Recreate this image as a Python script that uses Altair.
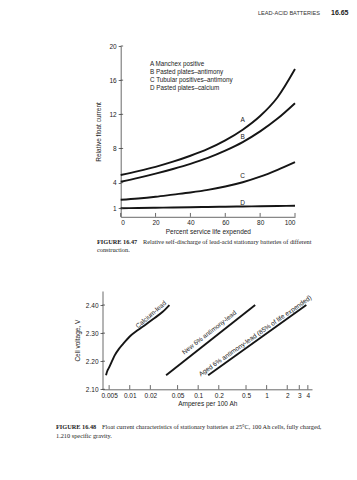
import altair as alt
import pandas as pd

# ---------------- Figure 16.47 data ----------------
life_pct = [0, 10, 20, 30, 40, 50, 60, 70, 80, 90, 100]
curve_a = [4.9, 5.35, 5.85, 6.45, 7.15, 7.95, 8.95, 10.2, 11.8, 14.0, 17.3]
curve_b = [4.1, 4.55, 5.05, 5.6, 6.2, 6.9, 7.75, 8.75, 10.0, 11.5, 13.3]
curve_c = [2.0, 2.15, 2.35, 2.6, 2.85, 3.15, 3.55, 4.05, 4.7, 5.5, 6.4]
curve_d = [1.0, 1.03, 1.06, 1.09, 1.12, 1.15, 1.18, 1.21, 1.24, 1.27, 1.3]
curve_names = ["A", "B", "C", "D"]
curve_label_x = [70, 70, 70, 70]
curve_label_y = [11.3, 9.3, 4.8, 1.65]
legend_lines = ["A  Manchex positive", "B  Pasted plates\u2013antimony",
                "C  Tubular positives\u2013antimony", "D  Pasted plates\u2013calcium"]
top_x_ticks = [0, 20, 40, 60, 80, 100]
top_y_ticks = [1, 4, 8, 12, 16, 20]

# ---------------- Figure 16.48 data ----------------
calcium_amps = [0.0045, 0.0047, 0.005, 0.0055, 0.006, 0.007, 0.008, 0.01, 0.013, 0.017, 0.022, 0.03, 0.038]
calcium_volts = [2.15, 2.165, 2.178, 2.20, 2.22, 2.245, 2.262, 2.288, 2.31, 2.33, 2.35, 2.375, 2.40]
new_sb_amps = [0.034, 0.68]
new_sb_volts = [2.15, 2.40]
aged_sb_amps = [0.14, 3.8]
aged_sb_volts = [2.15, 2.40]
bot_line_labels = ["Calcium-lead", "New 6% antimony-lead", "Aged 6% antimony-lead (85% of life expended)"]
bot_label_amps = [0.0205, 0.145, 0.68]
bot_label_volts = [2.366, 2.302, 2.29]
bot_label_angle = [319, 322, 325]
bot_x_ticks = [0.005, 0.01, 0.02, 0.05, 0.1, 0.2, 0.5, 1, 2, 3, 4]
bot_y_ticks = [2.10, 2.20, 2.30, 2.40]

# page geometry (page pixels, page has 8px margin)
PAGE_W, PAGE_H = 341, 464
TL, TR, TT, TB = 120.7, 295.0, 46.0, 216.8      # top plot frame (page px)
BL, BR, BT, BB = 102.5, 312.0, 291.0, 389.3     # bottom plot frame (page px)
OX, OY = TL - 8, TT - 8
PW, PH = TR - TL, TB - TT

SANS = "Liberation Sans"
SERIF = "Liberation Serif"
INK = "#222222"
AX = "#444444"
LINE = "#151515"

ax_common = dict(labelFont=SANS, titleFont=SANS, labelFontSize=6.5, titleFontSize=6.5,
                 titleFontWeight="normal", labelColor=INK, titleColor=INK,
                 domainColor=AX, domainWidth=0.8, tickColor=AX, tickWidth=0.8, grid=False)


def xs_t():
    return alt.Scale(domain=[0, 100], range=[0, PW], nice=False, zero=False)


def ys_t():
    return alt.Scale(domain=[0, 20], range=[PH, 0], nice=False, zero=False)


def xs_b():
    return alt.Scale(type="log", domain=[0.004, 4.6], range=[BL - TL, BR - TL], nice=False)


def ys_b():
    return alt.Scale(domain=[2.10, 2.45], range=[BB - TT, BT - TT], nice=False, zero=False)


# ---------- top chart ----------
rows = []
for name, vals in zip(curve_names, [curve_a, curve_b, curve_c, curve_d]):
    for x, y in zip(life_pct, vals):
        rows.append({"series": name, "x": x, "y": y})
top_df = pd.DataFrame(rows)

top_lines = alt.Chart(top_df).mark_line(color=LINE, strokeWidth=1.9, interpolate="monotone").encode(
    x=alt.X("x:Q", scale=xs_t(), axis=alt.Axis(orient="bottom", values=top_x_ticks,
                                               ticks=False, labelPadding=3, title="Percent service life expended",
                                               titlePadding=2, **ax_common)),
    y=alt.Y("y:Q", scale=ys_t(), axis=alt.Axis(orient="left", values=top_y_ticks,
                                               tickSize=2.5, labelPadding=2, title="Relative float current",
                                               titlePadding=7, **ax_common)),
    detail="series:N",
)
top_xt = alt.Chart(pd.DataFrame({"t": top_x_ticks})).mark_rule(color=AX, strokeWidth=0.8).encode(
    x=alt.X("t:Q", scale=xs_t(), axis=None),
    y=alt.Y(datum=0, scale=ys_t(), axis=None),
    y2=alt.datum(0.45),
)
top_yt = alt.Chart(pd.DataFrame({"t": top_y_ticks})).mark_rule(color=AX, strokeWidth=0.8).encode(
    y=alt.Y("t:Q", scale=ys_t(), axis=None),
    x=alt.X(datum=0, scale=xs_t(), axis=None),
    x2=alt.datum(1.4),
)
top_lbl = alt.Chart(pd.DataFrame({"n": curve_names, "x": curve_label_x, "y": curve_label_y})).mark_text(
    font=SANS, fontSize=6.5, color=INK).encode(
    x=alt.X("x:Q", scale=xs_t(), axis=None),
    y=alt.Y("y:Q", scale=ys_t(), axis=None),
    text="n:N",
)

# ---------- bottom chart ----------
brows = []
for x, y in zip(calcium_amps, calcium_volts):
    brows.append({"series": "ca", "x": x, "y": y})
for x, y in zip(new_sb_amps, new_sb_volts):
    brows.append({"series": "new", "x": x, "y": y})
for x, y in zip(aged_sb_amps, aged_sb_volts):
    brows.append({"series": "aged", "x": x, "y": y})
bot_df = pd.DataFrame(brows)

bot_lines = alt.Chart(bot_df).mark_line(color=LINE, strokeWidth=1.9, interpolate="monotone").encode(
    x=alt.X("x:Q", scale=xs_b(), axis=alt.Axis(orient="bottom", offset=BB - TB, values=bot_x_ticks,
                                               labelExpr="'' + datum.value", ticks=False, labelPadding=3,
                                               title="Amperes per 100 Ah", titlePadding=2, **ax_common)),
    y=alt.Y("y:Q", scale=ys_b(), axis=alt.Axis(orient="left", offset=TL - BL, values=bot_y_ticks, format=".2f",
                                               tickSize=2.5, labelPadding=2, title="Cell voltage, V",
                                               titlePadding=5, **ax_common)),
    detail="series:N",
)
bot_xt = alt.Chart(pd.DataFrame({"t": bot_x_ticks})).mark_rule(color=AX, strokeWidth=0.8).encode(
    x=alt.X("t:Q", scale=xs_b(), axis=None),
    y=alt.Y(datum=2.10, scale=ys_b(), axis=None),
    y2=alt.datum(2.115),
)
bot_yt = alt.Chart(pd.DataFrame({"t": bot_y_ticks})).mark_rule(color=AX, strokeWidth=0.8).encode(
    y=alt.Y("t:Q", scale=ys_b(), axis=None),
    x=alt.X(datum=0.004, scale=xs_b(), axis=None),
    x2=alt.datum(0.00435),
)
bot_lbl_df = pd.DataFrame({"n": bot_line_labels, "x": bot_label_amps, "y": bot_label_volts, "a": bot_label_angle})
bot_lbl = alt.Chart(bot_lbl_df).mark_text(font=SANS, fontSize=6.5, color=INK).encode(
    x=alt.X("x:Q", scale=xs_b(), axis=None),
    y=alt.Y("y:Q", scale=ys_b(), axis=None),
    text="n:N",
    angle=alt.Angle("a:Q", scale=None),
)

# ---------- page annotations ----------
one = pd.DataFrame({"k": [0]})


def note(text, px, py, size=6.5, font=SANS, weight="normal", align="left", color=INK, lh=8):
    return alt.Chart(one).mark_text(font=font, fontSize=size, fontWeight=weight, align=align,
                                    baseline="middle", color=color, lineBreak="\n", lineHeight=lh).encode(
        x=alt.value(px - 8 - OX), y=alt.value(py - 8 - OY), text=alt.value(text))


notes = [
    note("LEAD-ACID BATTERIES", 258, 13, size=5.6, color="#333333"),
    note("16.65", 331, 13, size=7, weight="bold"),
    note("\n".join(legend_lines), 150, 64, size=6.3, lh=8),
    note("FIGURE 16.47", 97, 242, size=6.3, font=SERIF, weight="bold"),
    note("Relative self-discharge of lead-acid stationary batteries of different", 143, 242, size=6.3, font=SERIF),
    note("construction.", 97, 250, size=6.3, font=SERIF),
    note("FIGURE 16.48", 56, 427, size=6.3, font=SERIF, weight="bold"),
    note("Float current characteristics of stationary batteries at 25\u00b0C, 100 Ah cells, fully charged,",
         102, 427, size=6.3, font=SERIF),
    note("1.210 specific gravity.", 56, 436, size=6.3, font=SERIF),
]

chart = alt.layer(top_lines, top_xt, top_yt, top_lbl, bot_lines, bot_xt, bot_yt, bot_lbl, *notes).resolve_scale(
    x="independent", y="independent").properties(
    width=PW, height=PH, autosize=alt.AutoSizeParams(type="none"),
    padding={"left": OX, "top": OY, "right": PAGE_W - OX - PW, "bottom": PAGE_H - OY - PH},
).configure_view(stroke=None)

chart.save("out.html", embed_options={"renderer": "svg", "actions": False})
